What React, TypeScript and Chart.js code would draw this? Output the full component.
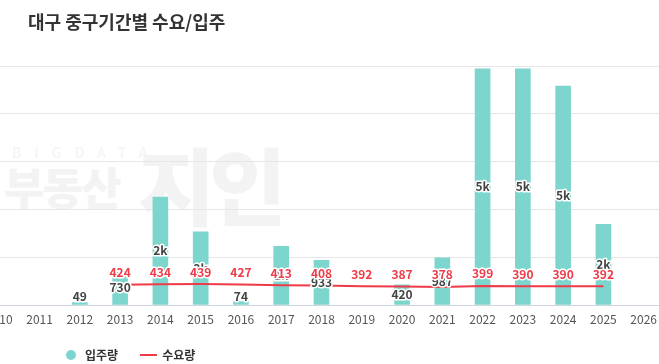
import React, { useEffect, useRef } from "react";
import { Chart, registerables } from "chart.js";

Chart.register(...registerables);

const years = ["2010","2011","2012","2013","2014","2015","2016","2017","2018","2019","2020","2021","2022","2023","2024","2025","2026"];
const supply: (number | null)[] = [null, null, 49, 730, 2260, 1530, 74, 1230, 933, null, 420, 987, 4940, 4940, 4580, 1690, null];
const demand: (number | null)[] = [null, null, null, 424, 434, 439, 427, 413, 408, 392, 387, 378, 399, 390, 390, 392, null];

const BAR_COLOR = "rgb(125,214,206)";
const LINE_COLOR = "rgb(240,58,72)";
const FONT = "'Noto Sans CJK KR', 'Noto Sans', sans-serif";

const fmt = (v: number) => (v >= 1000 ? Math.round(v / 1000) + "k" : String(v));

const labelPlugin = {
  id: "valueLabels",
  afterDatasetsDraw(chart: any) {
    const ctx = chart.ctx;
    ctx.save();
    ctx.textAlign = "center";
    ctx.textBaseline = "middle";
    ctx.lineJoin = "round";
    ctx.font = `bold 12px ${FONT}`;
    const bottom = chart.chartArea.bottom;
    const barMeta = chart.getDatasetMeta(0);
    barMeta.data.forEach((el: any, i: number) => {
      const v = supply[i];
      if (v == null) return;
      let y = (el.y + el.base) / 2;
      if (y > bottom - 9) y = bottom - 9;
      const t = fmt(v);
      ctx.lineWidth = 3;
      ctx.strokeStyle = "#ffffff";
      ctx.strokeText(t, el.x, y);
      ctx.fillStyle = "#444444";
      ctx.fillText(t, el.x, y);
    });
    const lineMeta = chart.getDatasetMeta(1);
    lineMeta.data.forEach((el: any, i: number) => {
      const v = demand[i];
      if (v == null) return;
      const y = el.y - 12;
      const t = String(v);
      ctx.lineWidth = 3;
      ctx.strokeStyle = "#ffffff";
      ctx.strokeText(t, el.x, y);
      ctx.fillStyle = LINE_COLOR;
      ctx.fillText(t, el.x, y);
    });
    ctx.restore();
  },
};

export default function App() {
  const ref = useRef<HTMLCanvasElement>(null);
  useEffect(() => {
    if (!ref.current) return;
    const chart = new Chart(ref.current, {
      type: "bar",
      data: {
        labels: years,
        datasets: [
          {
            type: "bar",
            label: "입주량",
            data: supply,
            backgroundColor: BAR_COLOR,
            barThickness: 15,
            order: 2,
          } as any,
          {
            type: "line",
            label: "수요량",
            data: demand,
            borderColor: LINE_COLOR,
            borderWidth: 2,
            pointRadius: 0,
            tension: 0,
            spanGaps: false,
            order: 1,
          } as any,
        ],
      },
      options: {
        animation: false,
        responsive: false,
        maintainAspectRatio: false,
        layout: { padding: { top: 66, bottom: 22, left: 0, right: 0 } },
        plugins: { legend: { display: false }, tooltip: { enabled: false } },
        scales: {
          x: {
            offset: true,
            grid: { display: false, drawTicks: false },
            border: { display: true, color: "#cfd5e0", width: 1 },
            ticks: {
              autoSkip: false,
              maxRotation: 0,
              padding: 7,
              color: "#555555",
              font: { size: 12, family: FONT },
            },
            afterFit: (s: any) => { s.height = 37; },
          },
          y: {
            min: 0,
            max: 5000,
            ticks: { display: false, stepSize: 1000 },
            border: { display: false },
            grid: { color: "#e6e6e6", drawTicks: false },
            afterFit: (s: any) => { s.width = 0; },
          },
        },
      } as any,
      plugins: [labelPlugin],
    });
    return () => chart.destroy();
  }, []);

  return (
    <div style={{ position: "fixed", left: 0, top: 0, width: 659, height: 364, overflow: "hidden", background: "#fff", fontFamily: FONT }}>
      <div style={{ position: "absolute", left: 12, top: 142, color: "#f5f5f5", fontSize: 14, letterSpacing: 13, fontWeight: 500 }}>BIGDATA</div>
      <div style={{ position: "absolute", left: 4, top: 154, color: "#f3f3f3", fontSize: 44, fontWeight: 900, letterSpacing: -2 }}>부동산</div>
      <div style={{ position: "absolute", left: 138, top: 122, color: "#f3f3f3", fontSize: 84, fontWeight: 900, letterSpacing: -6 }}>지인</div>
      <canvas ref={ref} width={685} height={364} style={{ position: "absolute", left: -21, top: 0, width: 685, height: 364 }} />
      <div style={{ position: "absolute", left: 28, top: 8, fontSize: 18, fontWeight: 700, color: "#333" }}>대구 중구기간별 수요/입주</div>
      <div style={{ position: "absolute", left: 66, top: 346, display: "flex", alignItems: "center", fontSize: 12, fontWeight: 700, color: "#333" }}>
        <span style={{ width: 10, height: 10, borderRadius: 5, background: BAR_COLOR, display: "inline-block" }} />
        <span style={{ marginLeft: 9 }}>입주량</span>
        <span style={{ width: 17, height: 2, background: LINE_COLOR, display: "inline-block", marginLeft: 22 }} />
        <span style={{ marginLeft: 5 }}>수요량</span>
      </div>
    </div>
  );
}
